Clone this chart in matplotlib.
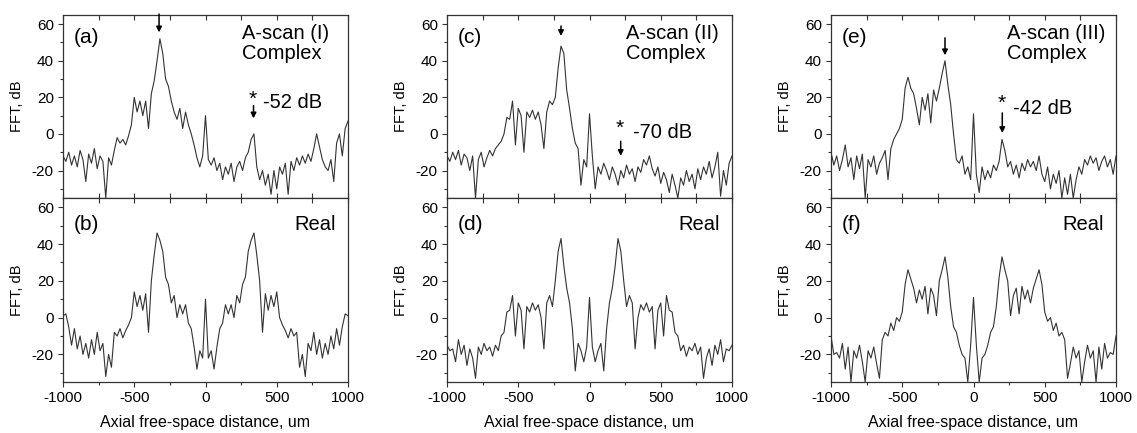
import numpy as np
import matplotlib.pyplot as plt
from matplotlib.ticker import MultipleLocator

plt.rcParams['font.family'] = ['Liberation Sans', 'DejaVu Sans']
plt.rcParams['axes.unicode_minus'] = False

# -- Données (dB), pas de 20 um -- #

x_um = np.arange(-1000, 1001, 20)

# A-scan (I)
a_complexe = [-12, -15, -10, -17, -12, -18, -9, -14, -26, -11,
              -16, -8, -19, -12, -15, -35, -13, -17, -9, -2,
              -5, -3, -6, -1, 5, 20, 12, 18, 10, 18,
              3, 22, 29, 40, 52, 44, 30, 26, 18, 12,
              8, 14, 3, 12, 5, 0, -6, -13, -18, -12,
              10, -14, -17, -13, -20, -16, -25, -18, -22, -16,
              -26, -18, -15, -20, -13, -10, -3, 0, -18, -25,
              -20, -28, -22, -33, -20, -30, -18, -22, -16, -33,
              -15, -20, -13, -17, -12, -16, -11, -15, -8, 0,
              -7, -14, -18, -20, -14, -26, -5, 0, -12, 3,
              7]
b_reel = [1, 2, -5, -15, -6, -17, -10, -20, -14, -22,
          -12, -20, -8, -18, -14, -32, -20, -27, -8, -10,
          -6, -11, -7, -4, 0, 14, 6, 12, 4, 13,
          -8, 20, 34, 46, 42, 36, 22, 18, 8, 12,
          0, 7, 2, 7, -3, -6, -16, -28, -18, -22,
          10, -22, -18, -28, -16, -6, -3, 7, 2, 7,
          0, 12, 8, 18, 22, 36, 42, 46, 34, 20,
          -8, 13, 4, 12, 6, 14, 0, -4, -7, -11,
          -6, -10, -8, -27, -20, -32, -14, -18, -8, -20,
          -12, -22, -14, -20, -10, -17, -6, -15, -5, 2,
          1]

# A-scan (II)
c_complexe = [-12, -15, -10, -14, -9, -17, -11, -13, -20, -12,
              -35, -14, -10, -18, -13, -9, -12, -8, -6, -4,
              0, 9, 8, 18, -6, 14, 10, -10, 12, 9,
              13, 8, 12, 5, -8, 12, 18, 16, 20, 36,
              48, 44, 24, 14, 3, -5, -8, -28, -14, -18,
              11, -12, -30, -18, -22, -16, -20, -25, -18, -22,
              -28, -20, -24, -17, -22, -19, -26, -18, -21, -14,
              -17, -12, -19, -23, -18, -27, -21, -25, -32, -22,
              -28, -35, -24, -28, -20, -26, -22, -30, -19, -25,
              -18, -22, -15, -24, -18, -10, -34, -20, -28, -16,
              -12]
d_reel = [-15, -18, -17, -24, -12, -20, -15, -26, -17, -22,
          -33, -16, -20, -14, -18, -16, -21, -15, -18, -10,
          -8, 3, 4, 12, -10, 8, 4, -17, 6, 3,
          8, 4, 7, 0, -17, 8, 12, 6, 20, 36,
          43, 28, 16, 8, -6, -29, -14, -18, -24, -16,
          11, -16, -24, -18, -14, -29, -6, 8, 16, 28,
          43, 36, 20, 6, 12, 8, -17, 0, 7, 4,
          8, 3, 6, -17, 4, 8, -10, 12, 4, 3,
          -8, -10, -18, -15, -21, -16, -18, -14, -20, -16,
          -33, -22, -17, -26, -15, -20, -12, -24, -17, -18,
          -15]

# A-scan (III)
e_complexe = [-10, -17, -12, -20, -14, -6, -18, -13, -25, -12,
              -19, -11, -35, -14, -18, -12, -22, -16, -13, -9,
              -25, -8, -3, 0, 3, 8, 25, 31, 25, 22,
              14, 5, 20, 13, 22, 6, 24, 18, 25, 33,
              40, 27, 16, 0, -14, -16, -12, -22, -18, -25,
              11, -22, -32, -18, -25, -20, -24, -17, -20, -15,
              -3, -9, -18, -15, -22, -17, -24, -16, -20, -14,
              -18, -15, -20, -12, -22, -26, -18, -30, -22, -27,
              -20, -35, -24, -33, -22, -35, -25, -18, -22, -14,
              -17, -12, -16, -13, -20, -15, -12, -18, -14, -22,
              -12]
f_reel = [-10, -20, -19, -22, -14, -28, -16, -35, -18, -22,
          -15, -24, -35, -18, -22, -16, -25, -33, -12, -8,
          -10, -3, -7, 0, -2, 3, 18, 26, 21, 16,
          8, 15, 10, 17, 2, 16, 12, 1, 20, 26,
          33, 22, 6, -5, -8, -15, -20, -22, -35, -15,
          11, -15, -35, -22, -20, -15, -8, -5, 6, 22,
          33, 26, 20, 1, 12, 16, 2, 17, 10, 15,
          8, 16, 21, 26, 18, 3, -2, 0, -7, -3,
          -10, -8, -12, -33, -25, -16, -22, -18, -35, -24,
          -15, -22, -18, -35, -16, -28, -14, -22, -19, -20,
          -10]

courbes_haut = [a_complexe, c_complexe, e_complexe]
courbes_bas = [b_reel, d_reel, f_reel]
etiq_haut = ['(a)', '(c)', '(e)']
etiq_bas = ['(b)', '(d)', '(f)']
scans = ['A-scan (I)', 'A-scan (II)', 'A-scan (III)']
niveaux = ['-52 dB', '-70 dB', '-42 dB']

# -- Mise en page (pixels) -- #

W, H = 1137, 433
gauches = [63, 447, 831]
larg = 285
trait = '#333333'

# positions des annotations : fleche du pic, texte du scan, etoile
fleche_pic = [(-326, 65.5, 55.5), (-200, 59, 53.5), (-200, 52.5, 43)]
x_scan = [256, 254, 233]
etoile = [(333, 19, 15.5, 8.5, 403, 17),
          (215, 3, -4, -12, 308, 1),
          (198, 16.5, 11.5, 0.5, 280, 14)]


def habiller(ax, bas):
    ax.set_xlim(-1000, 1000)
    ax.set_ylim(-35, 65)
    ax.xaxis.set_major_locator(MultipleLocator(500))
    ax.xaxis.set_minor_locator(MultipleLocator(250))
    ax.yaxis.set_major_locator(MultipleLocator(20))
    ax.yaxis.set_minor_locator(MultipleLocator(10))
    for s in ax.spines.values():
        s.set_linewidth(0.9)
        s.set_color(trait)
    ax.tick_params(axis='y', which='both', direction='out', left=True,
                   right=False, labelsize=11, pad=3, color=trait)
    ax.tick_params(axis='y', which='major', length=3.6, width=0.8)
    ax.tick_params(axis='y', which='minor', length=2.4, width=0.8)
    if bas:
        ax.tick_params(axis='x', which='both', direction='out', bottom=True,
                       top=False, labelsize=11, pad=3, color=trait)
        ax.tick_params(axis='x', which='major', length=3.6, width=0.8)
        ax.tick_params(axis='x', which='minor', length=2.4, width=0.8)
        sec = ax.secondary_xaxis('top')
        sec.xaxis.set_major_locator(MultipleLocator(500))
        sec.xaxis.set_minor_locator(MultipleLocator(250))
        sec.tick_params(axis='x', which='both', direction='in', labeltop=False,
                        length=3.6, width=0.8, color=trait)
        sec.spines['top'].set_visible(False)
        ax.set_xlabel('Axial free-space distance, um', fontsize=11.5)
        ax.xaxis.set_label_coords(0.5, -0.18)
        ax.yaxis.set_label_coords(-0.138, 0.424)
    else:
        ax.tick_params(axis='x', which='both', direction='in', bottom=True,
                       top=True, labelbottom=False, color=trait)
        ax.tick_params(axis='x', which='major', length=3.6, width=0.8)
        ax.tick_params(axis='x', which='minor', length=3.6, width=0.8)
        ax.yaxis.set_label_coords(-0.138, 0.42)
    ax.set_ylabel('FFT, dB', fontsize=10.5)


fig = plt.figure(figsize=(W / 100, H / 100), dpi=100)

for i in range(3):
    ax_h = fig.add_axes([gauches[i] / W, 1 - 198 / H, larg / W, 183 / H])
    ax_b = fig.add_axes([gauches[i] / W, 1 - 382 / H, larg / W, 184 / H])

    ax_h.plot(x_um, courbes_haut[i], color=trait, lw=0.8)
    ax_b.plot(x_um, courbes_bas[i], color=trait, lw=0.8)
    habiller(ax_h, False)
    habiller(ax_b, True)

    # textes du panneau complexe
    ax_h.text(-925, 52.5, etiq_haut[i], fontsize=15, va='center', ha='left')
    ax_h.text(x_scan[i], 52, scans[i], fontsize=14.5, va='baseline', ha='left')
    ax_h.text(x_scan[i], 41, 'Complex', fontsize=14.5, va='baseline', ha='left')

    xf, yq, yh = fleche_pic[i]
    ax_h.annotate('', xy=(xf, yh), xytext=(xf, yq), annotation_clip=False,
                  arrowprops=dict(arrowstyle='-|>', color='k', lw=1.1,
                                  mutation_scale=8, shrinkA=0, shrinkB=0))

    xe, ye, yq2, yh2, xt, yt = etoile[i]
    ax_h.text(xe, ye, '*', fontsize=15, va='center', ha='center')
    ax_h.annotate('', xy=(xe + 4, yh2), xytext=(xe + 4, yq2),
                  arrowprops=dict(arrowstyle='-|>', color='k', lw=1.1,
                                  mutation_scale=8, shrinkA=0, shrinkB=0))
    ax_h.text(xt, yt, niveaux[i], fontsize=14.5, va='center', ha='left')

    # textes du panneau réel
    ax_b.text(-925, 50.5, etiq_bas[i], fontsize=15, va='center', ha='left')
    ax_b.text(915, 47.5, 'Real', fontsize=14.5, va='baseline', ha='right')

fig.savefig('out.png', dpi=100)
